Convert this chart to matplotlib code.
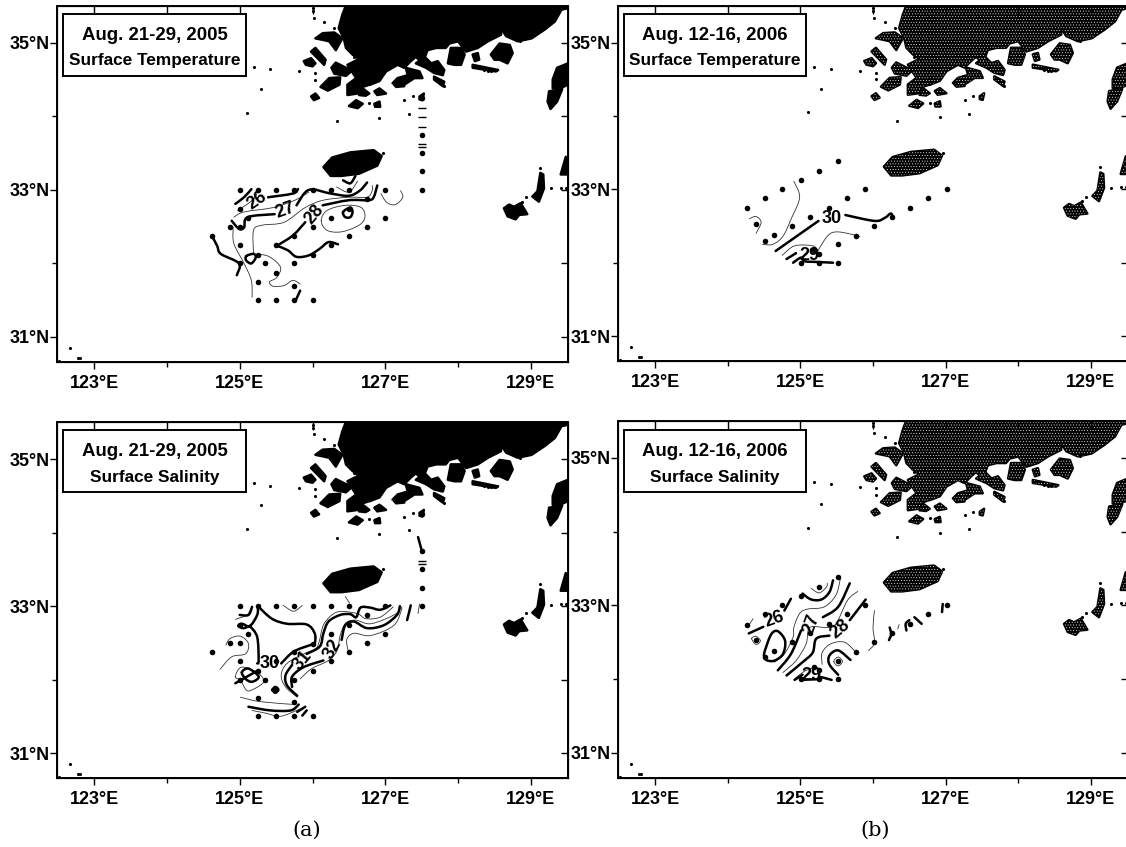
import numpy as np
import matplotlib
matplotlib.use("Agg")
import matplotlib.pyplot as plt
from matplotlib.path import Path
from matplotlib.patches import PathPatch, Polygon, Rectangle

plt.rcParams['font.family'] = ['Liberation Sans', 'DejaVu Sans']
plt.rcParams['hatch.linewidth'] = 0.3

W, H = 1126, 847

# coast, all lon/lat
mainland = [(126.46, 35.51), (126.41, 35.38), (126.36, 35.20), (126.43, 35.06), (126.46, 34.93), (126.55, 34.84),
            (126.64, 34.78), (126.48, 34.70), (126.60, 34.52), (126.48, 34.43), (126.48, 34.29), (126.62, 34.31),
            (126.69, 34.40), (126.78, 34.43), (126.80, 34.56), (126.79, 34.43), (126.92, 34.48), (127.01, 34.61),
            (127.17, 34.70), (127.26, 34.66), (127.35, 34.75), (127.42, 34.81), (127.51, 34.72), (127.58, 34.90),
            (127.70, 34.93), (127.83, 34.93), (127.88, 34.99), (128.0, 35.02), (128.11, 34.88), (128.27, 34.93),
            (128.41, 35.02), (128.59, 35.11), (128.59, 35.20), (128.66, 35.09), (128.82, 35.02), (129.01, 35.06),
            (129.19, 35.18), (129.33, 35.29), (129.42, 35.45), (129.51, 35.47), (129.51, 35.51)]
jeju = [(126.15, 33.31), (126.27, 33.44), (126.52, 33.51), (126.84, 33.54), (126.95, 33.46), (126.89, 33.33),
        (126.64, 33.22), (126.40, 33.19), (126.25, 33.19)]
islands = [
    [(127.42, 34.72), (127.54, 34.81), (127.63, 34.72), (127.72, 34.75), (127.81, 34.63), (127.79, 34.56), (127.67, 34.59),
     (127.56, 34.66)],
    [(127.86, 34.72), (127.90, 34.93), (128.04, 34.93), (128.09, 34.84), (128.04, 34.70), (127.95, 34.70)],
    [(128.45, 34.84), (128.57, 34.99), (128.71, 34.97), (128.75, 34.86), (128.68, 34.72), (128.57, 34.77), (128.50, 34.77)],
    [(127.10, 34.45), (127.17, 34.52), (127.31, 34.56), (127.28, 34.66), (127.47, 34.61), (127.51, 34.52), (127.40, 34.52),
     (127.26, 34.43)],
    [(126.64, 34.29), (126.69, 34.38), (126.78, 34.31), (126.73, 34.28)],
    [(126.85, 34.34), (126.92, 34.38), (127.01, 34.31), (126.89, 34.29)],
    [(126.11, 34.40), (126.23, 34.52), (126.38, 34.53), (126.37, 34.43), (126.21, 34.35)],
    [(126.26, 34.66), (126.32, 34.73), (126.46, 34.66), (126.55, 34.63), (126.46, 34.55), (126.30, 34.58)],
    [(125.88, 34.75), (125.98, 34.79), (126.04, 34.72), (126.0, 34.68), (125.91, 34.70)],
    [(125.98, 34.88), (126.04, 34.93), (126.18, 34.77), (126.16, 34.70), (126.09, 34.77)],
    [(126.04, 35.06), (126.14, 35.13), (126.30, 35.14), (126.41, 35.06), (126.32, 34.90), (126.23, 35.02), (126.14, 35.04)],
    [(127.12, 34.43), (127.24, 34.47), (127.26, 34.41), (127.15, 34.40)],
    [(126.50, 34.14), (126.60, 34.22), (126.69, 34.17), (126.62, 34.11)],
    [(127.47, 34.27), (127.53, 34.31), (127.51, 34.22), (127.47, 34.23)],
    [(126.85, 34.17), (126.92, 34.20), (126.93, 34.13), (126.86, 34.13)],
    [(128.20, 34.84), (128.27, 34.86), (128.29, 34.77), (128.23, 34.75)],
    [(127.67, 34.54), (127.81, 34.47), (127.79, 34.41), (127.67, 34.50)],
    [(128.20, 34.70), (128.55, 34.63), (128.52, 34.61), (128.20, 34.66)],
    [(125.98, 34.27), (126.04, 34.31), (126.09, 34.25), (126.02, 34.22)],
    # tsushima, goto side
    [(129.23, 34.20), (129.25, 34.34), (129.43, 34.37), (129.36, 34.20), (129.27, 34.10)],
    [(129.30, 34.38), (129.30, 34.50), (129.36, 34.66), (129.51, 34.72), (129.51, 34.43), (129.40, 34.38)],
    [(128.63, 32.75), (128.70, 32.80), (128.77, 32.77), (128.86, 32.82), (128.95, 32.67), (128.84, 32.66), (128.79, 32.60),
     (128.68, 32.64)],
    [(129.02, 32.91), (129.09, 32.98), (129.13, 33.23), (129.17, 33.21), (129.18, 33.02), (129.11, 32.84)],
    [(129.41, 33.21), (129.48, 33.45), (129.51, 33.21)],
]
tiny_lon = [125.82, 126.04, 126.04, 126.02, 126.16, 126.30, 126.0, 126.0, 126.78, 127.26, 127.38, 127.32, 126.92, 126.33,
            126.57, 128.36, 128.41, 128.45, 128.85, 127.81, 125.19, 125.42, 125.29, 125.10, 122.67, 122.78, 122.81,
            122.52, 126.97, 129.13, 128.93, 128.88, 129.27, 129.41, 129.48]
tiny_lat = [34.61, 34.59, 34.50, 35.34, 35.28, 35.20, 35.43, 35.47, 34.18, 34.22, 34.27, 34.03, 33.98, 33.93,
            34.81, 34.63, 34.62, 34.62, 35.02, 34.41, 34.67, 34.64, 34.37, 34.05, 30.85, 30.71, 30.71,
            30.68, 33.50, 33.30, 32.90, 32.84, 33.02, 33.03, 33.03]

# stations
sta_a_lon = [125, 125.25, 125.5, 125.75, 126, 126.25, 126.5, 127, 127.5, 127.5, 127.5, 127.5, 127.5, 125, 125, 124.87,
             125.12, 126.25, 126.5, 127, 126.75, 126.5, 126, 125.75, 125.5, 126.25, 126, 125, 124.62, 125.25, 125.35,
             125.75, 125, 125.5, 125.25, 125.75, 125.25, 125.5, 125.75, 126, 126.75]
sta_a_lat = [33, 33, 33, 33, 33, 33, 33, 33, 33, 33.25, 33.5, 33.75, 34.25, 32.74, 32.5, 32.5,
             32.62, 32.62, 32.74, 32.62, 32.5, 32.37, 32.49, 32.37, 32.25, 32.25, 32.12, 32.25, 32.37, 32.12, 32.0,
             32.0, 32.0, 31.87, 31.75, 31.7, 31.5, 31.5, 31.5, 31.5, 32.88]
sta_b_lon = [124.26, 124.51, 124.75, 125.01, 125.26, 125.52, 124.39, 124.51, 124.64, 124.88, 125.13, 125.39, 125.64,
             125.89, 125.77, 126.02, 126.26, 126.51, 126.76, 127.02, 125.52, 125.01, 125.26, 125.52, 125.19, 125.26]
sta_b_lat = [32.74, 32.88, 33.0, 33.13, 33.25, 33.38, 32.53, 32.30, 32.38, 32.50, 32.62, 32.75, 32.88,
             33.0, 32.37, 32.50, 32.62, 32.75, 32.88, 33.01, 32.25, 32.0, 32.0, 32.0, 32.17, 32.12]

# surface temperature 2005
t05_thick = [
    [(125.16, 33.01), (125.06, 32.90), (124.94, 32.81)],
    [(125.39, 32.90), (125.73, 32.95), (125.80, 33.01)],
    [(124.89, 32.58), (124.99, 32.47), (125.06, 32.49), (125.11, 32.63), (125.48, 32.67)],
    [(125.78, 32.79), (125.95, 33.0), (126.25, 32.95), (126.5, 32.92), (126.65, 32.99), (126.75, 33.10)],
    [(125.51, 32.24), (125.73, 32.38), (125.90, 32.56)],
    [(126.14, 32.79), (126.5, 32.86), (126.77, 32.86), (126.84, 32.90), (126.89, 33.06)],
    [(125.51, 32.24), (125.66, 32.18), (125.78, 32.09), (125.95, 32.11), (126.10, 32.2), (126.22, 32.29), (126.35, 32.26)],
    [(126.42, 32.70), (126.52, 32.76), (126.55, 32.70), (126.52, 32.63), (126.45, 32.63), (126.42, 32.70)],
    [(126.42, 33.13), (126.52, 33.09), (126.59, 33.19)],
    [(124.62, 32.37), (124.69, 32.24), (124.74, 32.13), (124.99, 32.0), (124.96, 31.84)],
    [(125.09, 32.1), (125.19, 32.13), (125.22, 32.08), (125.16, 32.0), (125.09, 32.04), (125.09, 32.1)],
    [(125.83, 31.63), (125.78, 31.52)],
]
t05_thin = [
    [(125.26, 33.01), (125.21, 32.9), (125.11, 32.81), (124.97, 32.72)],
    [(124.92, 32.63), (125.06, 32.70), (125.46, 32.76), (125.76, 32.86), (125.95, 32.97)],
    [(125.19, 32.13), (125.19, 32.45), (125.31, 32.52), (125.61, 32.56), (125.90, 32.76), (126.15, 32.86), (126.5, 32.90),
     (126.75, 32.90), (126.82, 32.99), (126.82, 33.06)],
    [(126.12, 32.58), (126.2, 32.72), (126.45, 32.79), (126.67, 32.76), (126.72, 32.63), (126.64, 32.52), (126.4, 32.43),
     (126.2, 32.45), (126.12, 32.58)],
    [(126.94, 32.95), (127.02, 32.83), (127.14, 32.80), (127.24, 32.9), (127.21, 32.99)],
    [(124.91, 32.49), (124.92, 32.27), (125.06, 32.0), (125.16, 31.77), (125.17, 31.54)],
    [(125.24, 32.13), (125.41, 32.09), (125.56, 31.95), (125.51, 31.81), (125.41, 31.75), (125.46, 31.69), (125.61, 31.70),
     (125.73, 31.77), (125.83, 31.72)],
    [(126.33, 33.04), (126.5, 32.97), (126.62, 33.12)],
]
t05_labels = [("26", 125.24, 32.85, 35), ("27", 125.63, 32.72, 20), ("28", 126.02, 32.66, 50)]
t05_dash_lat = [34.12, 33.99, 33.86, 33.62, 33.58]

# surface temperature 2006
t06_thick = [
    [(124.66, 32.16), (125.25, 32.57)],
    [(125.62, 32.65), (126.02, 32.57), (126.16, 32.61), (126.24, 32.67), (126.27, 32.64)],
    [(124.81, 32.05), (124.94, 32.13)],
    [(124.90, 32.0), (125.01, 32.07), (125.06, 32.02), (125.24, 32.01), (125.45, 32.0)],
]
t06_thin = [
    [(124.91, 33.11), (124.99, 32.89), (124.87, 32.59), (124.76, 32.36), (124.62, 32.25), (124.48, 32.25)],
    [(124.30, 32.6), (124.39, 32.63), (124.46, 32.55), (124.39, 32.40)],
    [(125.24, 32.16), (125.38, 32.37), (125.52, 32.42), (125.82, 32.36)],
    [(124.75, 32.10), (124.92, 32.23), (125.17, 32.23), (125.24, 32.16)],
]
t06_labels = [("30", 125.43, 32.60, 0), ("29", 125.13, 32.10, 0)]

# surface salinity 2005
s05_thick = [
    [(125.25, 33.0), (125.44, 32.83), (125.65, 32.76), (125.92, 32.75), (126.03, 32.63), (126.03, 32.49), (125.97, 32.47),
     (125.74, 32.38), (125.57, 32.22)],
    [(125.25, 33.0), (125.24, 32.88), (125.14, 32.73), (125.03, 32.76), (124.98, 32.73), (125.05, 32.70), (125.14, 32.73)],
    [(125.14, 32.73), (125.24, 32.58), (125.26, 32.26), (125.24, 32.22)],
    [(125.17, 32.99), (125.12, 32.88), (125.0, 32.88)],
    [(125.03, 32.10), (125.12, 32.15), (125.26, 32.04), (125.17, 31.97), (125.08, 32.01), (125.03, 32.10)],
    [(124.94, 31.95), (125.26, 32.13)],
    [(125.79, 31.78), (125.65, 31.92), (125.63, 32.06), (125.72, 32.20)],
    [(125.92, 32.35), (126.10, 32.45), (126.15, 32.63), (126.22, 32.79), (126.38, 32.88), (126.52, 32.89), (126.60, 32.85),
     (126.66, 32.98), (126.79, 32.98), (126.93, 32.95), (127.07, 33.01)],
    [(125.72, 31.90), (125.72, 32.04), (125.88, 32.17), (126.15, 32.26)],
    [(126.40, 32.54), (126.45, 32.74), (126.57, 32.79), (126.75, 32.70), (126.98, 32.74), (127.16, 32.88), (127.20, 33.0)],
    [(127.30, 32.81), (127.35, 33.01)],
    [(125.12, 31.63), (125.42, 31.58), (125.70, 31.58), (125.81, 31.66)],
    [(125.79, 31.56), (125.90, 31.63)],
    [(125.86, 31.51), (125.92, 31.58)],
    [(127.45, 33.94), (127.50, 33.76)],
    [(125.45, 31.86), (125.49, 31.90), (125.53, 31.86), (125.49, 31.82), (125.45, 31.86)],
]
s05_thin = [
    [(124.94, 32.82), (125.10, 32.88), (125.17, 32.99)],
    [(124.81, 32.47), (124.87, 32.56), (125.01, 32.59), (125.12, 32.49), (125.08, 32.35), (124.89, 32.31), (124.73, 32.14)],
    [(124.94, 32.04), (125.03, 32.17), (125.26, 32.08), (125.33, 31.97), (125.21, 31.88), (125.10, 31.85), (125.01, 31.99),
     (124.94, 32.04)],
    [(126.45, 33.13), (126.51, 33.04)],
    [(125.79, 31.76), (125.63, 31.90), (125.57, 32.06), (125.65, 32.22), (125.88, 32.35), (126.04, 32.42), (126.09, 32.51),
     (126.16, 32.76), (126.34, 32.92), (126.61, 32.90), (126.73, 32.83), (126.93, 32.85), (127.11, 32.99)],
    [(125.83, 32.01), (125.99, 32.15), (126.22, 32.26), (126.34, 32.40), (126.38, 32.60), (126.45, 32.76), (126.59, 32.81),
     (126.80, 32.76), (127.12, 32.88), (127.23, 32.99)],
    [(126.50, 32.35), (126.47, 32.54), (126.57, 32.63), (126.80, 32.60), (127.12, 32.74), (127.23, 32.97)],
    [(127.45, 32.90), (127.47, 33.03)],
    [(125.01, 31.76), (125.28, 31.70), (125.76, 31.66)],
    [(125.17, 31.58), (125.37, 31.54), (125.56, 31.50), (125.83, 31.60)],
    [(125.60, 33.01), (125.74, 32.93), (125.86, 33.01)],
]
s05_labels = [("30", 125.41, 32.22, 0), ("31", 125.87, 32.26, 50), ("32", 126.28, 32.41, 60)]
s05_dash_lat = [33.58, 33.62]

# surface salinity 2006
s06_thick = [
    [(124.29, 32.62), (124.49, 32.71)],
    [(124.78, 32.93), (124.87, 33.09)],
    [(124.50, 32.32), (124.52, 32.41), (124.60, 32.61), (124.69, 32.65), (124.79, 32.52), (124.76, 32.34), (124.64, 32.25),
     (124.53, 32.26), (124.50, 32.32)],
    [(125.03, 33.16), (125.15, 33.08), (125.29, 33.08), (125.40, 33.18), (125.45, 33.34)],
    [(124.69, 32.12), (124.87, 32.34), (125.01, 32.66)],
    [(125.31, 32.84), (125.52, 32.98), (125.68, 33.30)],
    [(124.81, 32.05), (125.03, 32.23), (125.17, 32.36), (125.22, 32.55), (125.40, 32.59)],
    [(125.68, 32.80), (125.90, 33.08)],
    [(125.52, 32.06), (125.40, 32.20), (125.40, 32.32), (125.52, 32.39), (125.69, 32.26)],
    [(124.92, 31.99), (125.03, 32.06)],
    [(125.0, 31.99), (125.27, 32.0)],
    [(125.28, 32.03), (125.43, 31.99)],
    [(126.22, 32.53), (126.25, 32.61), (126.23, 32.70)],
    [(126.46, 32.66), (126.45, 32.75), (126.50, 32.80)],
    [(126.57, 32.84), (126.67, 32.75)],
    [(126.95, 32.91), (126.96, 33.02)],
]
s06_thin = [
    [(124.29, 32.73), (124.35, 32.82)],
    [(125.15, 33.23), (125.26, 33.17), (125.36, 33.25), (125.37, 33.30)],
    [(124.64, 32.23), (124.78, 32.34), (124.90, 32.57), (124.91, 32.70), (124.99, 32.89), (125.10, 32.95), (125.33, 32.98),
     (125.49, 33.14), (125.55, 33.36)],
    [(124.76, 32.09), (124.94, 32.25), (125.08, 32.48), (125.13, 32.70), (125.36, 32.70), (125.49, 32.75), (125.65, 33.07),
     (125.79, 33.19)],
    [(125.30, 32.20), (125.30, 32.36), (125.42, 32.48), (125.61, 32.50), (125.77, 32.36)],
    [(125.46, 32.24), (125.52, 32.30), (125.58, 32.24), (125.52, 32.18), (125.46, 32.24)],
    [(124.33, 32.55), (124.39, 32.58), (124.45, 32.52), (124.39, 32.47), (124.33, 32.55)],
    [(124.94, 32.02), (125.06, 32.11), (125.19, 32.16)],
    [(125.94, 32.39), (126.02, 32.49), (126.0, 32.70), (126.02, 32.93)],
    [(126.34, 32.68), (126.36, 32.74)],
]
s06_labels = [("26", 124.64, 32.81, 20), ("27", 125.16, 32.75, 70), ("28", 125.55, 32.68, 40), ("29", 125.15, 32.05, 0)]

titles = ["Aug. 21-29, 2005", "Aug. 12-16, 2006", "Aug. 21-29, 2005", "Aug. 12-16, 2006"]
subtitles = ["Surface Temperature", "Surface Temperature", "Surface Salinity", "Surface Salinity"]


def smooth(ax, pts, lw, color):
    # catmull-rom through the traced points, drawn as a bezier path
    p = np.array(pts)
    closed = len(p) > 3 and np.allclose(p[0], p[-1])
    if closed:
        q = np.vstack([p[-2], p, p[1]])
    else:
        q = np.vstack([p[0], p, p[-1]])
    verts = [q[1]]
    codes = [Path.MOVETO]
    for i in range(1, len(q) - 2):
        verts += [q[i] + (q[i + 1] - q[i - 1]) / 6, q[i + 1] - (q[i + 2] - q[i]) / 6, q[i + 1]]
        codes += [Path.CURVE4] * 3
    ax.add_patch(PathPatch(Path(verts, codes), fill=False, lw=lw, ec=color, capstyle='round'))


def panel(rect, title, subtitle, box, thick, thin, labels, sta_lon, sta_lat, dash_lat=None, stipple=False):
    l, t, r, b = rect
    ax = fig.add_axes([l / W, 1 - b / H, (r - l) / W, (b - t) / H])
    ax.set_xlim(122.49, 129.51)
    ax.set_ylim(30.66, 35.5)

    land = [mainland, jeju] + islands
    for poly in land:
        ax.add_patch(Polygon(poly, closed=True, fc='black', ec='black', lw=1.8, joinstyle='round'))
    if stipple:
        for poly in land:
            ax.add_patch(Polygon(poly, closed=True, fill=False, ec='white', lw=0, hatch='......'))
    ax.scatter(tiny_lon, tiny_lat, s=5, c='black', marker='o', lw=0)

    for c in thin:
        smooth(ax, c, 0.6, '#333333')
    for c in thick:
        smooth(ax, c, 1.8, 'black')
    ax.scatter(sta_lon, sta_lat, s=16, c='black', lw=0, zorder=3)
    if dash_lat is not None:
        ax.scatter([127.5] * len(dash_lat), dash_lat, s=30, c='black', marker='_', lw=1, zorder=3)

    for txt, x, y, rot in labels:
        ax.text(x, y, txt, fontsize=13, fontweight='bold', ha='center', va='center', rotation=rot, zorder=4)

    ax.set_xticks([123, 125, 127, 129])
    ax.set_xticklabels(["123°E", "125°E", "127°E", "129°E"], fontsize=13, fontweight='bold')
    ax.set_xticks([124, 126, 128], minor=True)
    ax.set_yticks([31, 33, 35])
    ax.set_yticklabels(["31°N", "33°N", "35°N"], fontsize=13, fontweight='bold')
    ax.set_yticks([32, 34], minor=True)
    ax.tick_params(axis='x', which='major', length=5, width=1, pad=4)
    ax.tick_params(axis='y', which='major', length=5, width=1, pad=0.5)
    ax.tick_params(axis='both', which='minor', length=3.5, width=1)
    for s in ax.spines.values():
        s.set_linewidth(1.4)
    # ticks repeated inside on the top and right edges
    ax2 = ax.twiny()
    ax2.set_xlim(ax.get_xlim())
    ax2.set_xticks(range(123, 130))
    ax2.set_xticklabels([])
    ax2.tick_params(axis='x', direction='in', length=6, width=1)
    ax3 = ax.twinx()
    ax3.set_ylim(ax.get_ylim())
    ax3.set_yticks(range(31, 36))
    ax3.set_yticklabels([])
    ax3.tick_params(axis='y', direction='in', length=5, width=1)

    bl, bt, br, bb = box
    fig.add_artist(Rectangle((bl / W, 1 - bb / H), (br - bl) / W, (bb - bt) / H, transform=fig.transFigure,
                             fc='white', ec='black', lw=1.4, zorder=5))
    cx = (bl + br) / 2 / W
    fig.text(cx, 1 - (bt + 21) / H, title, fontsize=13.4, fontweight='bold', ha='center', va='center', zorder=6)
    fig.text(cx, 1 - (bb - 15) / H, subtitle, fontsize=12.4, fontweight='bold', ha='center', va='center', zorder=6)
    return ax


fig = plt.figure(figsize=(W / 100, H / 100), dpi=100)

panel((57, 6, 568, 362), titles[0], subtitles[0], (63, 14, 246, 76), t05_thick, t05_thin, t05_labels,
      sta_a_lon, sta_a_lat, dash_lat=t05_dash_lat)
panel((618, 6, 1128, 361), titles[1], subtitles[1], (624, 14, 806, 76), t06_thick, t06_thin, t06_labels,
      sta_b_lon, sta_b_lat, stipple=True)
panel((57, 422.5, 568, 778), titles[2], subtitles[2], (63, 430, 246, 492), s05_thick, s05_thin, s05_labels,
      sta_a_lon, sta_a_lat, dash_lat=s05_dash_lat)
panel((618, 421, 1128, 778), titles[3], subtitles[3], (624, 430, 806, 492), s06_thick, s06_thin, s06_labels,
      sta_b_lon, sta_b_lat, stipple=True)

fig.text(307 / W, 1 - 830 / H, "(a)", fontsize=15, family='DejaVu Serif', ha='center', va='center')
fig.text(875 / W, 1 - 830 / H, "(b)", fontsize=15, family='DejaVu Serif', ha='center', va='center')

fig.savefig("out.png", dpi=100)
